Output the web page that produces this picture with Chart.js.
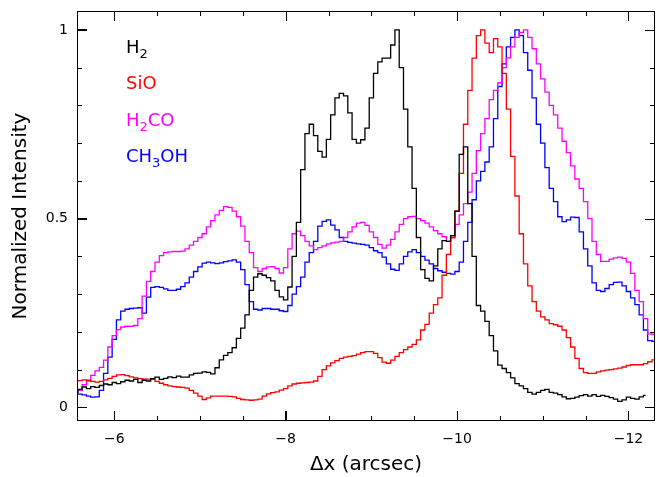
<!DOCTYPE html>
<html>
<head>
<meta charset="utf-8">
<script src="https://cdn.jsdelivr.net/npm/chart.js@4.4.1/dist/chart.umd.min.js"></script>
<style>
  html, body { margin: 0; padding: 0; background: #fff; }
</style>
</head>
<body>
<canvas id="profileChart" width="660" height="477"></canvas>
<script>
// offsets along the cut (arcsec)
const xPos = [
  -5.55, -5.60, -5.65, -5.70, -5.75, -5.80, -5.85, -5.90, -5.95, -6.00,
  -6.05, -6.10, -6.15, -6.20, -6.25, -6.30, -6.35, -6.40, -6.45, -6.50,
  -6.55, -6.60, -6.65, -6.70, -6.75, -6.80, -6.85, -6.90, -6.95, -7.00,
  -7.05, -7.10, -7.15, -7.20, -7.25, -7.30, -7.35, -7.40, -7.45, -7.50,
  -7.55, -7.60, -7.65, -7.70, -7.75, -7.80, -7.85, -7.90, -7.95, -8.00,
  -8.05, -8.10, -8.15, -8.20, -8.25, -8.30, -8.35, -8.40, -8.45, -8.50,
  -8.55, -8.60, -8.65, -8.70, -8.75, -8.80, -8.85, -8.90, -8.95, -9.00,
  -9.05, -9.10, -9.15, -9.20, -9.25, -9.30, -9.35, -9.40, -9.45, -9.50,
  -9.55, -9.60, -9.65, -9.70, -9.75, -9.80, -9.85, -9.90, -9.95, -10.00,
  -10.05, -10.10, -10.15, -10.20, -10.25, -10.30, -10.35, -10.40, -10.45, -10.50,
  -10.55, -10.60, -10.65, -10.70, -10.75, -10.80, -10.85, -10.90, -10.95, -11.00,
  -11.05, -11.10, -11.15, -11.20, -11.25, -11.30, -11.35, -11.40, -11.45, -11.50,
  -11.55, -11.60, -11.65, -11.70, -11.75, -11.80, -11.85, -11.90, -11.95, -12.00,
  -12.05, -12.10, -12.15, -12.20, -12.25, -12.30
];

const h2 = [
  0.040, 0.048, 0.054, 0.050, 0.055, 0.053, 0.058, 0.062, 0.060, 0.066,
  0.063, 0.068, 0.072, 0.070, 0.074, 0.066, 0.072, 0.070, 0.076, 0.080,
  0.074, 0.077, 0.081, 0.079, 0.083, 0.080, 0.080, 0.086, 0.090, 0.091,
  0.094, 0.093, 0.089, 0.105, 0.126, 0.138, 0.145, 0.158, 0.183, 0.210,
  0.245, 0.310, 0.345, 0.354, 0.350, 0.344, 0.335, 0.310, 0.293, 0.285,
  0.319, 0.400, 0.490, 0.630, 0.725, 0.750, 0.720, 0.678, 0.663, 0.710,
  0.775, 0.820, 0.832, 0.825, 0.780, 0.710, 0.700, 0.709, 0.740, 0.820,
  0.885, 0.915, 0.925, 0.925, 0.960, 1.000, 0.900, 0.790, 0.690, 0.580,
  0.450, 0.365, 0.342, 0.335, 0.375, 0.420, 0.442, 0.440, 0.455, 0.520,
  0.670, 0.690, 0.540, 0.400, 0.270, 0.255, 0.228, 0.190, 0.150, 0.112,
  0.103, 0.092, 0.078, 0.063, 0.057, 0.050, 0.040, 0.035, 0.040, 0.045,
  0.048, 0.040, 0.038, 0.034, 0.028, 0.023, 0.024, 0.027, 0.031, 0.034,
  0.030, 0.034, 0.029, 0.032, 0.029, 0.026, 0.022, 0.016, 0.020, 0.027,
  0.024, 0.022, 0.028, 0.032, null, null
];

const sio = [
  0.070, 0.071, 0.073, 0.072, 0.069, 0.067, 0.069, 0.073, 0.077, 0.082,
  0.086, 0.087, 0.084, 0.081, 0.078, 0.076, 0.075, 0.075, 0.074, 0.069,
  0.064, 0.060, 0.057, 0.055, 0.054, 0.053, 0.051, 0.045, 0.038, 0.030,
  0.021, 0.025, 0.030, 0.030, 0.030, 0.030, 0.029, 0.028, 0.024, 0.021,
  0.020, 0.019, 0.020, 0.022, 0.030, 0.036, 0.039, 0.041, 0.046, 0.050,
  0.057, 0.062, 0.064, 0.065, 0.066, 0.067, 0.070, 0.082, 0.100, 0.110,
  0.118, 0.124, 0.130, 0.133, 0.135, 0.137, 0.141, 0.145, 0.148, 0.148,
  0.143, 0.132, 0.120, 0.117, 0.125, 0.135, 0.145, 0.153, 0.160, 0.167,
  0.179, 0.205, 0.220, 0.250, 0.272, 0.290, 0.350, 0.405, 0.450, 0.520,
  0.620, 0.750, 0.840, 0.925, 0.985, 1.000, 0.965, 0.940, 0.977, 0.955,
  0.885, 0.790, 0.665, 0.560, 0.460, 0.380, 0.322, 0.280, 0.255, 0.240,
  0.232, 0.222, 0.219, 0.215, 0.205, 0.185, 0.160, 0.130, 0.103, 0.092,
  0.090, 0.090, 0.094, 0.097, 0.099, 0.100, 0.102, 0.104, 0.107, 0.111,
  0.113, 0.113, 0.113, 0.116, 0.121, 0.126
];

const h2co = [
  0.040, 0.045, 0.060, 0.070, 0.085, 0.097, 0.106, 0.125, 0.160, 0.190,
  0.206, 0.213, 0.215, 0.215, 0.217, 0.235, 0.295, 0.334, 0.360, 0.385,
  0.402, 0.410, 0.412, 0.413, 0.413, 0.414, 0.420, 0.430, 0.440, 0.450,
  0.460, 0.478, 0.495, 0.510, 0.522, 0.532, 0.530, 0.520, 0.505, 0.480,
  0.440, 0.410, 0.370, 0.360, 0.368, 0.372, 0.373, 0.368, 0.356, 0.370,
  0.420, 0.460, 0.467, 0.455, 0.440, 0.428, 0.418, 0.423, 0.428, 0.433,
  0.436, 0.438, 0.440, 0.450, 0.465, 0.478, 0.488, 0.490, 0.482, 0.465,
  0.450, 0.432, 0.422, 0.430, 0.445, 0.465, 0.485, 0.500, 0.505, 0.506,
  0.500, 0.495, 0.488, 0.478, 0.468, 0.460, 0.452, 0.440, 0.450, 0.485,
  0.510, 0.540, 0.570, 0.620, 0.680, 0.725, 0.765, 0.815, 0.840, 0.860,
  0.900, 0.926, 0.955, 0.980, 0.993, 1.000, 0.980, 0.950, 0.910, 0.870,
  0.835, 0.800, 0.775, 0.740, 0.705, 0.675, 0.640, 0.605, 0.580, 0.545,
  0.500, 0.440, 0.405, 0.387, 0.387, 0.393, 0.396, 0.398, 0.395, 0.385,
  0.355, 0.310, 0.280, 0.235, 0.195, 0.193
];

const ch3oh = [
  0.037, 0.035, 0.033, 0.030, 0.027, 0.028, 0.045, 0.090, 0.133, 0.180,
  0.232, 0.255, 0.260, 0.262, 0.263, 0.264, 0.250, 0.292, 0.318, 0.320,
  0.318, 0.314, 0.310, 0.310, 0.313, 0.320, 0.330, 0.345, 0.360, 0.372,
  0.382, 0.385, 0.383, 0.381, 0.383, 0.386, 0.388, 0.391, 0.385, 0.365,
  0.325, 0.280, 0.260, 0.258, 0.262, 0.262, 0.260, 0.260, 0.256, 0.254,
  0.270, 0.300, 0.320, 0.345, 0.385, 0.410, 0.440, 0.480, 0.493, 0.497,
  0.483, 0.470, 0.450, 0.440, 0.437, 0.435, 0.433, 0.432, 0.430, 0.423,
  0.415, 0.410, 0.398, 0.380, 0.366, 0.363, 0.380, 0.400, 0.412, 0.418,
  0.410, 0.400, 0.390, 0.380, 0.368, 0.362, 0.358, 0.355, 0.353, 0.360,
  0.385, 0.440, 0.490, 0.550, 0.600, 0.625, 0.650, 0.690, 0.765, 0.850,
  0.910, 0.955, 0.980, 1.000, 0.985, 0.940, 0.893, 0.820, 0.750, 0.700,
  0.635, 0.580, 0.545, 0.505, 0.492, 0.497, 0.504, 0.503, 0.465, 0.420,
  0.375, 0.330, 0.310, 0.307, 0.315, 0.325, 0.331, 0.332, 0.322, 0.307,
  0.290, 0.272, 0.245, 0.205, 0.177, 0.175
];

const seriesNames = ['H2', 'SiO', 'H2CO', 'CH3OH'];
const seriesColors = ['#000000', '#ff0000', '#ff00ff', '#0000ff'];
const seriesValues = [h2, sio, h2co, ch3oh];

const xMajorTicks = [-6, -8, -10, -12];
const xMinorTicks = [-6, -6.5, -7, -7.5, -8, -8.5, -9, -9.5, -10, -10.5, -11, -11.5, -12];
const yMajorTicks = [0, 0.5, 1];
const yMinorTicks = [0, 0.1, 0.2, 0.3, 0.4, 0.5, 0.6, 0.7, 0.8, 0.9, 1];

const fontFamily = 'DejaVu Sans';
Chart.defaults.font.family = fontFamily;
Chart.defaults.color = '#000';

const fmt = v => (v < 0 ? '\u2212' + Math.abs(v) : String(v));

// legend text (digits as subscripts), then frame with inward ticks on all sides
const decor = {
  id: 'decor',
  afterDraw(chart) {
    const ctx = chart.ctx;
    const a = chart.chartArea;
    const xs = chart.scales.x;
    const ys = chart.scales.y;

    ctx.save();
    ctx.textBaseline = 'alphabetic';
    seriesNames.forEach((name, i) => {
      let x = a.left + 49;
      const base = a.top + 42 + i * 36.3;
      ctx.fillStyle = seriesColors[i];
      name.split(/(\d)/).filter(s => s).forEach(part => {
        const sub = /\d/.test(part);
        ctx.font = (sub ? 13 : 18) + 'px "' + fontFamily + '"';
        ctx.fillText(part, x, sub ? base + 5 : base);
        x += ctx.measureText(part).width;
      });
    });
    ctx.restore();

    ctx.save();
    ctx.fillStyle = '#000000';
    ctx.fillRect(a.left, a.top, a.right - a.left, 1);
    ctx.fillRect(a.left, a.bottom - 1, a.right - a.left, 1);
    ctx.fillRect(a.left, a.top, 1, a.bottom - a.top);
    ctx.fillRect(a.right - 1, a.top, 1, a.bottom - a.top);
    xMinorTicks.forEach(v => {
      const px = Math.round(xs.getPixelForValue(v));
      const len = xMajorTicks.indexOf(v) >= 0 ? 10 : 5;
      ctx.fillRect(px, a.bottom - len, 1, len);
      ctx.fillRect(px, a.top, 1, len);
    });
    yMinorTicks.forEach(v => {
      const py = Math.round(ys.getPixelForValue(v));
      const len = yMajorTicks.indexOf(v) >= 0 ? 10 : 5;
      ctx.fillRect(a.left, py, len, 1);
      ctx.fillRect(a.right - len, py, len, 1);
    });
    ctx.restore();
  }
};

const datasets = seriesValues.map((vals, i) => ({
  label: seriesNames[i],
  data: xPos.map((x, j) => ({ x: x, y: vals[j] })),
  borderColor: seriesColors[i],
  backgroundColor: seriesColors[i],
  stepped: 'middle',
  fill: false,
  spanGaps: false
}));

// major ticks also drawn by the axes themselves, pointing inward
const inwardGrid = {
  display: true,
  drawOnChartArea: false,
  drawTicks: true,
  tickLength: -10,
  tickWidth: 1,
  tickColor: '#000000'
};

const config = {
  type: 'line',
  data: { datasets: datasets },
  options: {
    responsive: false,
    animation: false,
    devicePixelRatio: 1,
    layout: { padding: { top: 11, right: 5, left: 0, bottom: 0 } },
    plugins: { legend: { display: false }, tooltip: { enabled: false } },
    elements: { point: { radius: 0 }, line: { borderWidth: 1.3, tension: 0 } },
    scales: {
      x: {
        type: 'linear',
        reverse: true,
        min: -12.31,
        max: -5.565,
        grid: inwardGrid,
        border: { display: false },
        afterBuildTicks: s => { s.ticks = xMajorTicks.map(v => ({ value: v })); },
        afterFit: s => { s.height = 56; s.paddingLeft = 0; s.paddingRight = 0; },
        ticks: { font: { size: 14 }, padding: 20, maxRotation: 0, autoSkip: false, callback: v => fmt(v) },
        title: { display: true, text: '\u0394x (arcsec)', font: { size: 20 }, padding: { top: 0, bottom: 0 } }
      },
      y: {
        type: 'linear',
        min: -0.036,
        max: 1.05,
        grid: inwardGrid,
        border: { display: false },
        afterBuildTicks: s => { s.ticks = yMajorTicks.map(v => ({ value: v })); },
        afterFit: s => { s.width = 77; s.paddingTop = 0; s.paddingBottom = 0; },
        ticks: { font: { size: 14 }, padding: 19, autoSkip: false, callback: v => fmt(v) },
        title: { display: true, text: 'Normalized Intensity', font: { size: 20 }, padding: { top: 9, bottom: 0 } }
      }
    }
  },
  plugins: [decor]
};

const profileChart = new Chart(document.getElementById('profileChart'), config);
</script>
</body>
</html>
